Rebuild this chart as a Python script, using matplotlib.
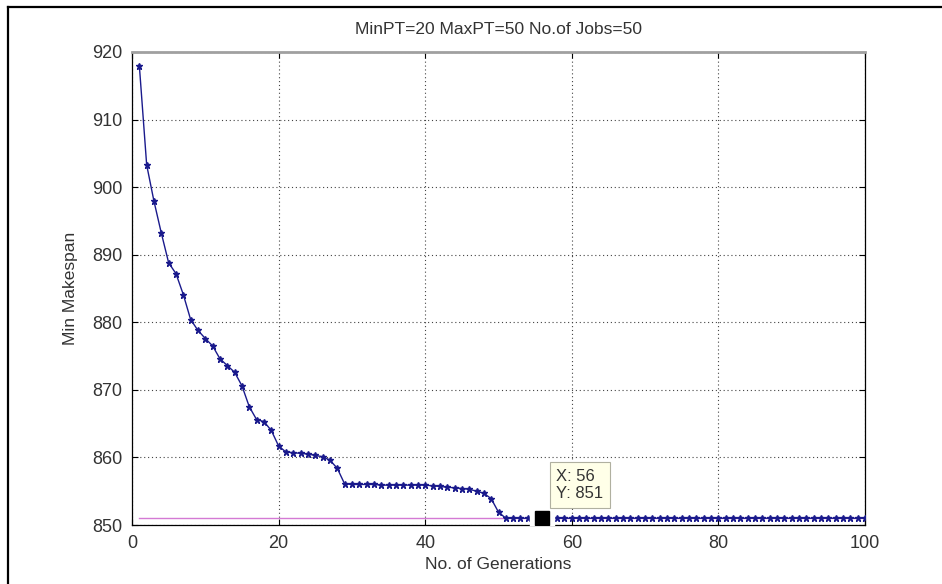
import matplotlib
matplotlib.use("Agg")
import matplotlib.pyplot as plt
from matplotlib.lines import Line2D

plt.rcParams['font.family'] = ['Liberation Sans', 'DejaVu Sans']

generations = list(range(1, 101))
min_makespan = [
    918.0, 903.3, 897.9, 893.2, 888.8, 887.2, 884.1, 880.4, 878.8, 877.6,
    876.5, 874.6, 873.6, 872.6, 870.6, 867.5, 865.6, 865.3, 864.0, 861.7,
    860.8, 860.7, 860.6, 860.5, 860.3, 860.1, 859.6, 858.4, 856.1, 856.0,
    856.0, 856.0, 856.0, 855.9, 855.9, 855.9, 855.9, 855.9, 855.9, 855.9,
    855.8, 855.7, 855.6, 855.5, 855.4, 855.3, 855.0, 854.7, 853.9, 851.9,
] + [851.0] * 50
best_value = 851
tip_x = 56
tip_y = 851
title = "MinPT=20 MaxPT=50 No.of Jobs=50"
xlabel = "No. of Generations"
ylabel = "Min Makespan"
xticks = [0, 20, 40, 60, 80, 100]
yticks = [850, 860, 870, 880, 890, 900, 910, 920]

fig = plt.figure(figsize=(9.42, 5.84), dpi=100)
ax = fig.add_axes([132/942, 1-525/584, (865-132)/942, (525-52)/584])

txt = '#333333'
ax.plot([generations[0], generations[-1]], [best_value, best_value],
        color='#d47ad4', lw=1.0, zorder=2)
ax.plot(generations, min_makespan, color='#1a1a8c', lw=1.0, marker='*',
        markersize=4.5, markerfacecolor='#1a1a8c', markeredgecolor='#1a1a8c',
        zorder=3)
ax.plot([tip_x], [tip_y], marker='s', markersize=17, color='white',
        markeredgecolor='white', zorder=4)
ax.plot([tip_x], [tip_y], marker='s', markersize=9.5, color='black',
        markeredgecolor='black', zorder=5)
ax.annotate(f"X: {tip_x}\nY: {tip_y}", xy=(tip_x, tip_y),
            xytext=(10, 12.5), textcoords='offset points', ha='left', va='bottom',
            fontsize=12, color='#333333', linespacing=1.15, zorder=6,
            bbox=dict(boxstyle='square,pad=0.4', fc='#ffffe8', ec='#b0b0a0', lw=0.8))

ax.set_xlim(0, 100)
ax.set_ylim(850, 920)
ax.set_xticks(xticks)
ax.set_yticks(yticks)
ax.grid(True, color='#444444', linestyle=(0, (1, 2.5)), lw=0.8)
ax.set_axisbelow(True)
ax.tick_params(direction='in', top=True, right=True, length=4, width=0.8,
               labelsize=13, labelcolor=txt, pad=7)
for s in ['left', 'right', 'bottom']:
    ax.spines[s].set_color('black')
    ax.spines[s].set_linewidth(0.9)
ax.spines['top'].set_color('#a0a0a0')
ax.spines['top'].set_linewidth(2)

ax.set_title(title, fontsize=12.5, color=txt, pad=13)
ax.set_xlabel(xlabel, fontsize=12.5, color=txt, labelpad=4)
ax.set_ylabel(ylabel, fontsize=12.5, color=txt, labelpad=10)

fig.add_artist(Line2D([8/942, 8/942], [0, 1-7/584], transform=fig.transFigure,
                      color='black', lw=1.6))
fig.add_artist(Line2D([8/942, 1], [1-7/584, 1-7/584], transform=fig.transFigure,
                      color='black', lw=1.6))

fig.savefig('out.png', dpi=100)
